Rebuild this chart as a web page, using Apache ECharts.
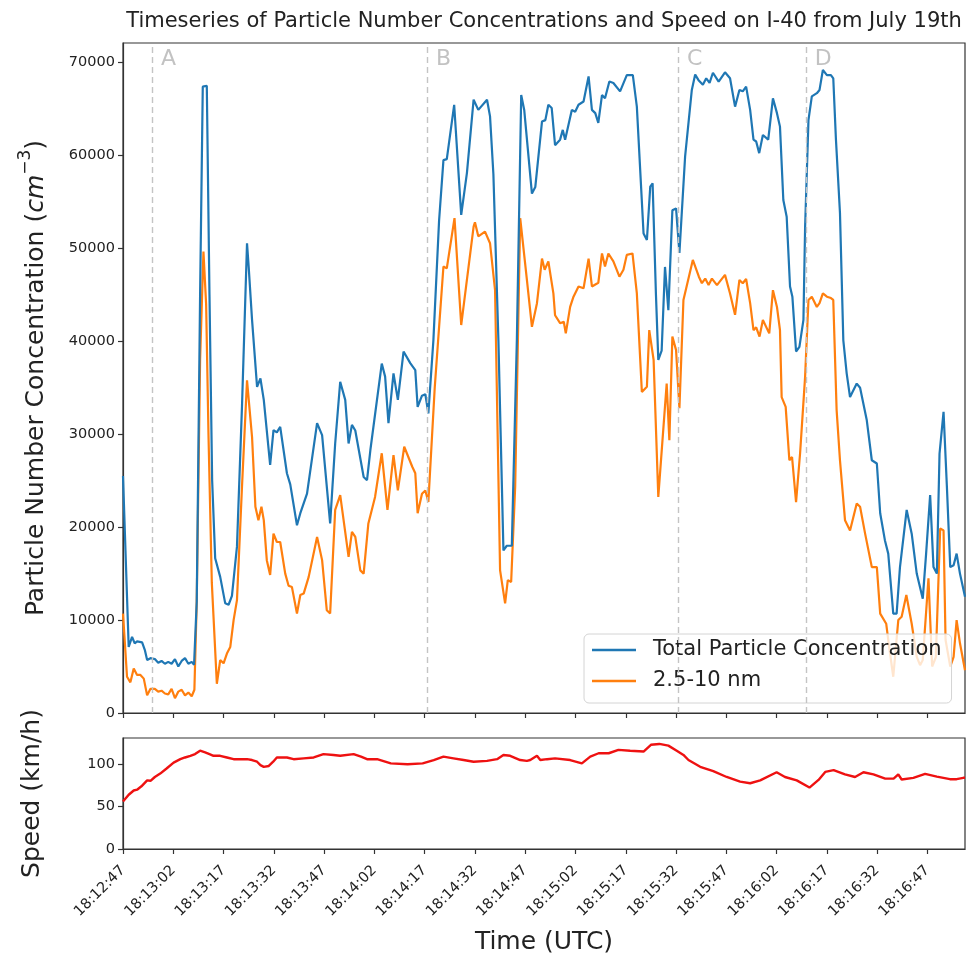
<!DOCTYPE html>
<html>
<head>
<meta charset="utf-8">
<script src="https://cdn.jsdelivr.net/npm/echarts@6/dist/echarts.min.js"></script>
<style>
html,body{margin:0;padding:0;background:#fff;}
#chart{width:969px;height:958px;}
</style>
</head>
<body>
<div id="chart"></div>
<script>
// ---- data (seconds after 18:12:47 UTC) ----
const tickLabels = ['18:12:47','18:13:02','18:13:17','18:13:32','18:13:47','18:14:02','18:14:17','18:14:32','18:14:47','18:15:02','18:15:17','18:15:32','18:15:47','18:16:02','18:16:17','18:16:32','18:16:47'];
const tickSeconds = [0,15,30,45,60,75,90,105,120,135,150,165,180,195,210,225,240];

const markerNames = ['A','B','C','D'];
const markerTimes = [8.65, 90.66, 165.6, 203.7];

const tTotal = [0,1.7,2.7,3.5,4.2,5.7,6.5,7.2,8.2,9.5,10.5,11.5,12.5,13.5,14.5,15.5,16.5,17.5,18.5,19.5,20.5,21.2,22,23,23.8,25,25.8,26.6,27.5,29,30.5,31.5,32.5,34,35.5,37,37.5,38.5,40,41,42,43.9,44.9,45.9,46.9,48.9,49.9,51.9,52.9,54.9,57.9,59.4,61.8,63.3,64.8,66.3,67.3,68.3,69.3,71.8,72.8,73.8,77.2,78.2,79.2,80.7,82,83.7,85.7,87.2,87.9,89.2,90.2,91.1,92.6,94.3,95.6,96.6,98.8,100.9,102.6,104.6,106,108.6,109.5,110.5,112,113.5,114.5,116,117.5,118.8,119.7,122,123,125,126,126.9,127.9,128.9,130.4,131.2,131.9,133.9,134.9,135.9,137.4,138.9,139.9,140.9,141.8,142.9,143.8,145.1,146.3,148.3,150.3,152.1,153.3,155.3,156.3,157.3,158,159,159.7,160.7,161.7,162.7,163.9,165,166,167.7,169.7,170.7,171.7,173,174,175,176,177.7,179.6,181.1,182.6,183.9,184.9,185.9,187.1,188.1,188.9,189.8,190.9,192.5,193.9,195.1,196,197,198,199,199.7,200.8,201.8,203,203.5,204.5,205.5,207,207.8,208.8,210,211.2,211.9,212.7,213.9,214.9,215.9,216.9,218.9,219.9,221.9,223.4,224.9,225.9,227.3,228.3,229.8,230.8,231.8,233.8,235.3,236.8,238.6,239.6,240.8,241.8,242.8,243.6,244.8,245.8,246.8,247.8,248.7,249.7,251.2];
const totalConc = [25500,7100,8200,7500,7700,7600,6800,5700,5900,5800,5400,5600,5300,5500,5300,5800,5000,5600,5900,5300,5500,5200,12000,45000,67400,67500,45000,25000,16650,14650,11800,11650,12600,17900,33000,50550,48000,42300,35100,36000,33700,26700,30450,30200,30800,25800,24600,20200,21500,23600,31200,29900,20400,29000,35650,33700,29000,31000,30400,25400,25050,28300,37600,36200,31200,36550,33700,38900,37650,36900,32950,34150,34300,32250,40100,53000,59500,59600,65450,53600,58100,66000,64900,66000,64200,58000,40100,17500,18000,18000,40100,66500,64900,55900,56600,63650,63800,65450,65100,61100,61700,62750,61700,64900,64700,65450,65800,68500,64900,64550,63500,66500,66150,67950,67800,66900,68650,68650,65250,51600,50900,56650,57000,45000,38000,39000,48000,43350,54100,54300,49500,59900,67050,68700,68100,67600,68300,67800,68900,67950,68950,68300,65250,67050,66900,67400,64900,61700,61500,60250,62200,61700,66150,64550,63100,55200,53400,45900,44800,38900,39400,42300,52300,63800,66350,66700,67050,69200,68650,68650,68300,61700,53800,40100,36550,34000,35450,35000,31500,27200,26850,21500,18600,17150,10700,10700,15700,21850,19300,15000,12300,17150,23450,15700,15000,27900,32400,24350,15700,15900,17150,15000,12500];

const tSmall = [0,1.2,2.2,3.2,4.2,5.2,6.2,7.2,8.2,9.5,10.5,11.5,12.5,13.5,14.5,15.5,16.5,17.5,18.5,19.5,20.5,21.3,22,23,24,24.8,25.5,26.5,28,29,30,31,32,33,34,35.5,37,38.5,39.5,40.4,41.3,42,42.9,43.9,44.9,45.9,46.9,48.4,49.4,50.4,51.9,52.9,53.9,55.4,57.9,59.4,60.8,61.8,63.3,64.8,67.3,68.3,69.3,70.8,71.8,73.2,75.2,77.2,78.9,80.7,82,83.9,86.3,87.2,87.9,89.2,90.2,91.1,93,95.6,96.6,98.9,100.9,102.6,104.6,105,106,108,109.5,111,112.5,114,114.8,115.8,117,118.5,120.5,122,123.5,125,125.8,126.9,128.4,128.9,130.4,131.5,132.1,133.4,134.4,135.9,137.4,138.9,139.9,141.8,142.9,143.8,144.8,146.3,148.1,149.3,150.3,152,153.3,154.8,156.3,157,158.3,159.7,162.2,163,163.9,165,166,167.2,170,171.8,172.7,173.7,174.7,175.7,177.2,179.6,181.1,182.6,183.9,184.9,185.9,187.1,188.1,188.9,189.9,190.9,192.8,193.9,195.1,196,196.5,197.7,198.8,199.6,200.8,202,203.5,204.5,205.5,207,207.8,208.8,210,211.2,211.9,212.9,213.9,215.4,216.9,218.9,219.9,221.4,223.4,224.9,225.9,227.7,228.7,229.8,231.3,232.3,233.7,235.3,236.8,237.8,238.6,240.3,241.4,242.5,243.8,244.8,245.4,246.8,247.8,248.7,249.7,251.2];
const smallConc = [10700,3900,3300,4800,4100,4100,3700,1900,2600,2600,2300,2400,2100,2000,2600,1600,2300,2500,1900,2200,1800,2500,12000,38000,49650,44000,30000,14000,3150,5700,5350,6400,7100,10000,12150,24350,35800,29700,22200,20750,22200,20750,16450,14850,19300,18400,18400,15000,13700,13550,10700,12700,12850,14650,18950,16450,11050,10700,21850,23450,16800,19500,18950,15350,15000,20400,23250,27950,21850,27750,23950,28650,26500,25800,21500,23600,23950,22700,35000,48050,47850,53250,41750,46600,52350,52800,51300,51800,50550,45500,15350,11800,14300,14100,24350,53250,46600,41550,44100,48900,47700,48600,45150,42800,41950,42100,40850,43700,44800,45900,45700,48900,45900,46300,49450,48050,49450,48600,46950,47700,49300,49450,45150,34550,35100,41200,38000,23250,35450,29350,40500,39050,32800,44450,48750,46950,46250,46750,46050,46750,46050,47150,45150,42850,46600,46250,46700,44100,41200,41500,40500,42300,40850,45500,43700,41200,34000,32950,27200,27550,22700,27950,36200,44450,44800,43700,44100,45150,44800,44650,44450,32600,27200,20750,19650,22550,22200,19300,15700,15700,10700,9600,6750,3900,10000,10350,12700,9600,6050,5150,5700,14500,5000,6000,19850,19650,7850,5000,6050,10000,7500,4600];

const tSpeed = [0,1.7,3.2,4.2,5.5,7.2,8.2,9.5,11.1,13,15.1,17.1,18.5,20.1,21.5,23,24.5,25.8,27,29,31,33,37,38.5,40,41,42,43.5,44.8,45.9,48.9,50.9,53.9,56.9,59.8,62.8,64.8,68.8,71,72.8,75.8,79.9,84.9,89.4,92.7,95.6,98.6,101.6,104.6,108.6,111.6,113.5,115.5,118.5,120.5,121.5,123.5,124.5,126.5,128.9,133.4,136.9,139.4,141.9,144.9,147.8,151.3,155.3,157.5,160,162.7,165.2,167.2,168.7,172.2,176.1,180.1,184.1,187.1,190.1,195,197.5,201,204.8,207.5,209.5,212,215.4,218.4,220.9,223.9,227.4,229.9,231.3,232.3,235.8,239.3,242.8,246.7,248.7,250.7,251.2];
const speedKmh = [56,64,69,70,74,81,80.5,85,89,95,102,106,108,110,112,116,114,112,110,110,108,106,106,105,103,99,97,98,103,108,108,106,107,108,112,111,110,112,109,106,106,101,100,101,105,109,107,105,103,104,106,111,110,105,104,105,110,105,106,107,105,101,109,113,113,117,116,115,123,124,122,116,111,105,97,92,85,79.5,77.6,81,90.6,85,81,72.5,81.5,91,93,88,85,90.6,88,83,83,88,82,84,88.6,85.5,82.4,82.4,84,84];

// ---- chart ----
const FONT = 'DejaVu Sans';
const AX = '#333';
const TXT = '#222';
const zip = (ts, vs) => ts.map((t, i) => [t, vs[i]]);
const fmtTick = v => { const i = tickSeconds.indexOf(v); return i >= 0 ? tickLabels[i] : ''; };

const chart = echarts.init(document.getElementById('chart'), null, {renderer: 'canvas'});
const xCommon = {
  type: 'value', min: 0, max: 251.2,
  axisLine: {show: true, lineStyle: {color: AX, width: 1.2}},
  axisTick: {show: true, length: 5, inside: false, lineStyle: {color: AX, width: 1.2}, customValues: tickSeconds},
  splitLine: {show: false}
};
const yLabel = {fontFamily: FONT, fontSize: 14.5, color: TXT, margin: 8, showMaxLabel: false, formatter: v => String(v)};
const option = {
  animation: false,
  backgroundColor: '#fff',
  textStyle: {fontFamily: FONT},
  title: {
    text: 'Timeseries of Particle Number Concentrations and Speed on I-40 from July 19th',
    left: 539, top: 6, textAlign: 'center',
    textStyle: {fontFamily: FONT, fontSize: 21, fontWeight: 'normal', color: TXT}
  },
  legend: {
    data: ['Total Particle Concentration', '2.5-10 nm'],
    orient: 'vertical', left: 584, top: 634,
    icon: 'rect', itemWidth: 44, itemHeight: 2.5, itemGap: 7,
    padding: [4, 10, 10, 8],
    backgroundColor: 'rgba(255,255,255,0.8)', borderColor: '#d4d4d4', borderWidth: 1, borderRadius: 5,
    textStyle: {fontFamily: FONT, fontSize: 21, lineHeight: 24, color: TXT, padding: [0, 0, 0, 12]}
  },
  grid: [
    {left: 123, right: 4, top: 43, height: 670, show: true, borderColor: AX, borderWidth: 1.2, backgroundColor: 'transparent'},
    {left: 123, right: 4, top: 738, height: 111, show: true, borderColor: AX, borderWidth: 1.2, backgroundColor: 'transparent'}
  ],
  xAxis: [
    Object.assign({}, xCommon, {gridIndex: 0, axisLabel: {show: false}}),
    Object.assign({}, xCommon, {
      gridIndex: 1,
      name: 'Time (UTC)', nameLocation: 'middle', nameGap: 81,
      nameTextStyle: {fontFamily: FONT, fontSize: 25, color: TXT},
      axisLabel: {show: true, rotate: 45, margin: 19, fontFamily: FONT, fontSize: 14.5, color: TXT, customValues: tickSeconds, formatter: fmtTick}
    })
  ],
  yAxis: [
    {
      gridIndex: 0, type: 'value', min: 0, max: 72100, interval: 10000,
      name: '{a|Particle Number Concentration (}{b|cm}{c|−3}{a|)}',
      nameLocation: 'middle', nameGap: 74, nameRotate: 90,
      nameTextStyle: {
        rich: {
          a: {fontFamily: FONT, fontSize: 25, color: TXT, lineHeight: 32, verticalAlign: 'bottom'},
          b: {fontFamily: FONT, fontSize: 25, fontStyle: 'italic', color: TXT, lineHeight: 32, verticalAlign: 'bottom'},
          c: {fontFamily: FONT, fontSize: 17, color: TXT, lineHeight: 32, verticalAlign: 'top'}
        }
      },
      axisLine: {show: true, lineStyle: {color: AX, width: 1.2}},
      axisTick: {show: true, length: 5, lineStyle: {color: AX, width: 1.2}},
      axisLabel: yLabel,
      splitLine: {show: false}
    },
    {
      gridIndex: 1, type: 'value', min: 0, max: 131, interval: 50,
      name: 'Speed (km/h)', nameLocation: 'middle', nameGap: 75,
      nameTextStyle: {fontFamily: FONT, fontSize: 25, color: TXT, lineHeight: 32},
      axisLine: {show: true, lineStyle: {color: AX, width: 1.2}},
      axisTick: {show: true, length: 5, lineStyle: {color: AX, width: 1.2}},
      axisLabel: yLabel,
      splitLine: {show: false}
    }
  ],
  series: [
    {
      name: 'Total Particle Concentration', type: 'line', xAxisIndex: 0, yAxisIndex: 0,
      data: zip(tTotal, totalConc), showSymbol: false, symbol: 'none',
      lineStyle: {color: '#1f77b4', width: 2.2}, itemStyle: {color: '#1f77b4'}, z: 3,
      markLine: {
        silent: true, symbol: ['none', 'none'], label: {show: false},
        lineStyle: {color: '#c4c4c4', type: [6, 4], width: 1.4},
        data: markerTimes.map(t => ({xAxis: t}))
      }
    },
    {
      name: '2.5-10 nm', type: 'line', xAxisIndex: 0, yAxisIndex: 0,
      data: zip(tSmall, smallConc), showSymbol: false, symbol: 'none',
      lineStyle: {color: '#ff7f0e', width: 2.2}, itemStyle: {color: '#ff7f0e'}, z: 2
    },
    {
      name: 'markers', type: 'scatter', xAxisIndex: 0, yAxisIndex: 0,
      data: markerTimes.map((t, i) => [t, 70340, markerNames[i]]),
      symbolSize: 0, silent: true,
      label: {show: true, position: 'right', distance: 9, formatter: p => p.data[2],
        fontFamily: FONT, fontSize: 22, color: '#b3b3b3'}
    },
    {
      name: 'Speed', type: 'line', xAxisIndex: 1, yAxisIndex: 1,
      data: zip(tSpeed, speedKmh), showSymbol: false, symbol: 'none',
      lineStyle: {color: '#ee1111', width: 2.4}, itemStyle: {color: '#ee1111'}
    }
  ]
};
chart.setOption(option);
</script>
</body>
</html>
